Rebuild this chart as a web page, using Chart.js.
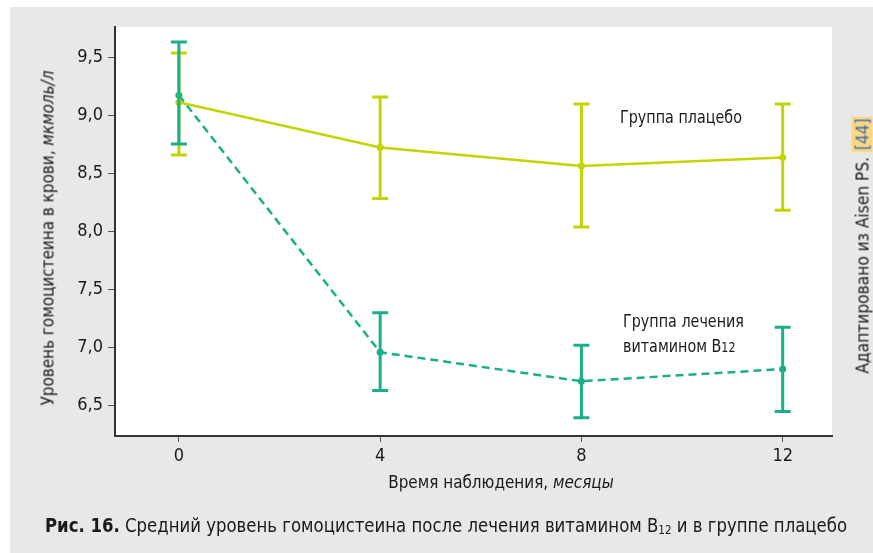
<!DOCTYPE html>
<html>
<head>
<meta charset="utf-8">
<script src="https://cdn.jsdelivr.net/npm/chart.js@4.4.1/dist/chart.umd.min.js"></script>
<style>
  html, body { margin: 0; padding: 0; background: #ffffff; }
  #wrap { position: relative; width: 873px; height: 553px; overflow: hidden; font-family: "Liberation Sans Narrow", "DejaVu Sans Condensed", "Roboto", sans-serif; color: #1a1a1a; }
  #bg { position: absolute; left: 10px; top: 7px; width: 863px; height: 546px; background: #e8e8e8; }
  #c { position: absolute; left: 0; top: 0; }
  .t { position: absolute; white-space: nowrap; }
  #ytitle { left: 47px; top: 238px; transform: translate(-50%, -50%) rotate(-90deg) scaleX(0.94); font-size: 18px; }
  #xtitle { left: 501px; top: 481px; transform: translate(-50%, -50%) scaleX(0.94); font-size: 18px; }
  #cap { left: 446px; top: 525px; transform: translate(-50%, -50%) scaleX(0.967); font-size: 19px; }
  #cap sub { font-size: 12px; vertical-align: -2px; }
  #src { left: 862px; top: 245px; transform: translate(-50%, -50%) rotate(-90deg) scaleX(0.955); font-size: 18px; }
  #src span { background: #fcd77f; color: #3a6db5; padding: 0 2px; }
  #lab1 { left: 620px; top: 106px; font-size: 18px; transform-origin: 0 0; transform: scaleX(0.885); }
  #lab2 { left: 623px; top: 308px; font-size: 18px; line-height: 25px; transform-origin: 0 0; transform: scaleX(0.885); }
  #lab2 small { font-size: 14px; }
</style>
</head>
<body>
<div id="wrap">
  <div id="bg"></div>
  <canvas id="c" width="873" height="553"></canvas>
  <div class="t" id="ytitle">Уровень гомоцистеина в крови, <i>мкмоль/л</i></div>
  <div class="t" id="xtitle">Время наблюдения, <i>месяцы</i></div>
  <div class="t" id="cap"><b>Рис. 16.</b> Средний уровень гомоцистеина после лечения витамином B<sub>12</sub> и в группе плацебо</div>
  <div class="t" id="src">Адаптировано из Aisen PS. <span>[44]</span></div>
  <div class="t" id="lab1">Группа плацебо</div>
  <div class="t" id="lab2">Группа лечения<br>витамином B<small>12</small></div>
</div>
<script>
const months = [0, 4, 8, 12];
const xTicks = [0, 4, 8, 12];
const yTicks = [6.5, 7.0, 7.5, 8.0, 8.5, 9.0, 9.5];

const placeboMean = [9.11, 8.72, 8.56, 8.635];
const placeboLow  = [8.655, 8.28, 8.035, 8.18];
const placeboHigh = [9.535, 9.155, 9.095, 9.095];

const b12Mean = [9.17, 6.955, 6.705, 6.81];
const b12Low  = [8.75, 6.625, 6.39, 6.445];
const b12High = [9.63, 7.295, 7.015, 7.17];

const placeboColor = '#c3d400';
const b12Color = '#1cae8a';

const whiteArea = {
  id: 'whiteArea',
  beforeDraw(chart) {
    const a = chart.chartArea, ctx = chart.ctx;
    ctx.save();
    ctx.fillStyle = '#ffffff';
    ctx.fillRect(a.left, a.top, a.right - a.left, a.bottom - a.top);
    ctx.restore();
  }
};

const errorBars = {
  id: 'errorBars',
  afterDatasetsDraw(chart) {
    const ctx = chart.ctx, xs = chart.scales.x, ys = chart.scales.y;
    chart.data.datasets.forEach(ds => {
      if (!ds.errLow) return;
      ctx.save();
      ctx.strokeStyle = ds.borderColor;
      ctx.lineWidth = 3;
      ctx.setLineDash([]);
      ds.data.forEach((p, i) => {
        const x = xs.getPixelForValue(p.x);
        const yl = ys.getPixelForValue(ds.errLow[i]);
        const yh = ys.getPixelForValue(ds.errHigh[i]);
        ctx.beginPath();
        ctx.moveTo(x, yl); ctx.lineTo(x, yh);
        ctx.moveTo(x - 8, yl); ctx.lineTo(x + 8, yl);
        ctx.moveTo(x - 8, yh); ctx.lineTo(x + 8, yh);
        ctx.stroke();
      });
      ctx.restore();
    });
  }
};

const tickFont = { family: '"Liberation Sans Narrow", "DejaVu Sans Condensed", Roboto, sans-serif', size: 18 };

new Chart(document.getElementById('c'), {
  type: 'line',
  data: {
    datasets: [
      {
        label: 'Группа плацебо',
        data: months.map((m, i) => ({ x: m, y: placeboMean[i] })),
        errLow: placeboLow, errHigh: placeboHigh,
        borderColor: placeboColor, backgroundColor: placeboColor,
        borderWidth: 2.5, pointRadius: 3.5, pointBorderWidth: 0, tension: 0
      },
      {
        label: 'Группа лечения витамином B12',
        data: months.map((m, i) => ({ x: m, y: b12Mean[i] })),
        errLow: b12Low, errHigh: b12High,
        borderColor: b12Color, backgroundColor: b12Color,
        borderWidth: 2.5, borderDash: [8, 5], pointRadius: 3.5, pointBorderWidth: 0, tension: 0
      }
    ]
  },
  options: {
    responsive: false,
    animation: false,
    layout: { padding: { left: 0, top: 27, right: 41, bottom: 0 } },
    plugins: { legend: { display: false }, tooltip: { enabled: false } },
    scales: {
      x: {
        type: 'linear', min: -1.27, max: 12.98,
        afterBuildTicks(s) { s.ticks = xTicks.map(v => ({ value: v })); },
        afterFit(s) { s.height = 117; },
        grid: { drawOnChartArea: false, drawTicks: true, tickLength: 6, color: '#555', lineWidth: 1 },
        border: { display: true, color: '#333', width: 2 },
        ticks: { font: tickFont, color: '#1a1a1a', padding: 4, callback: v => String(v) }
      },
      y: {
        type: 'linear', min: 6.233, max: 9.759,
        afterBuildTicks(s) { s.ticks = yTicks.map(v => ({ value: v })); },
        afterFit(s) { s.width = 115; },
        grid: { drawOnChartArea: false, drawTicks: true, tickLength: 7, color: '#555', lineWidth: 1 },
        border: { display: true, color: '#333', width: 2 },
        ticks: { font: tickFont, color: '#1a1a1a', padding: 5, callback: v => v.toFixed(1).replace('.', ',') }
      }
    }
  },
  plugins: [whiteArea, errorBars]
});
</script>
</body>
</html>
